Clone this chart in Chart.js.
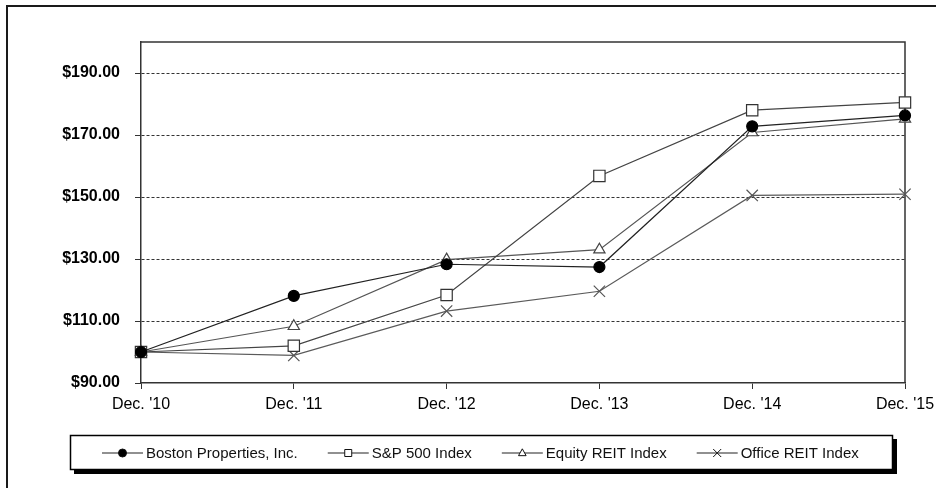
<!DOCTYPE html>
<html lang="en">
<head>
<meta charset="UTF-8">
<title>Cumulative Total Return</title>
<style>
  html, body { margin: 0; padding: 0; background: #fff; overflow: hidden; }
  .frame {
    position: absolute; left: 6px; top: 5px;
    width: 1000px; height: 1000px;
    border: 2px solid #1a1a1a;
  }
  #chart { position: absolute; left: 0; top: 0; }
</style>
<script src="https://cdn.jsdelivr.net/npm/chart.js"></script>
</head>
<body>
<div class="frame"></div>
<canvas id="chart" width="936" height="488"></canvas>
<script>
// values
const years = ["Dec. '10", "Dec. '11", "Dec. '12", "Dec. '13", "Dec. '14", "Dec. '15"];
const bostonProperties = [100, 118.1, 128.3, 127.4, 172.8, 176.3];
const sp500 = [100, 102.0, 118.4, 156.8, 178.0, 180.5];
const equityReit = [100, 108.3, 129.8, 133.0, 170.8, 175.2];
const officeReit = [100, 98.9, 113.2, 119.6, 150.5, 150.9];
const yTicks = [90, 110, 130, 150, 170, 190];

const FONT = '"Liberation Sans", Arial, sans-serif';

function drawMarker(ctx, style, x, y, r, fill, stroke) {
    ctx.save();
    ctx.fillStyle = fill;
    ctx.strokeStyle = stroke;
    ctx.lineWidth = 1;
    ctx.beginPath();
    if (style === 'circle') {
        ctx.arc(x, y, r, 0, Math.PI * 2);
        ctx.fill(); ctx.stroke();
    } else if (style === 'rect') {
        ctx.rect(x - r, y - r, r * 2, r * 2);
        ctx.fill(); ctx.stroke();
    } else if (style === 'triangle') {
        ctx.moveTo(x, y - r * 1.1);
        ctx.lineTo(x + r, y + r * 0.7);
        ctx.lineTo(x - r, y + r * 0.7);
        ctx.closePath();
        ctx.fill(); ctx.stroke();
    } else {
        ctx.moveTo(x - r, y - r); ctx.lineTo(x + r, y + r);
        ctx.moveTo(x + r, y - r); ctx.lineTo(x - r, y + r);
        ctx.stroke();
    }
    ctx.restore();
}

// top and right edges of the plot box
const plotFrame = {
    id: 'plotFrame',
    beforeDatasetsDraw(chart) {
        const {ctx, chartArea: a} = chart;
        ctx.save();
        ctx.strokeStyle = '#333';
        ctx.lineWidth = 1.5;
        ctx.beginPath();
        ctx.moveTo(a.left, a.top);
        ctx.lineTo(a.right, a.top);
        ctx.lineTo(a.right, a.bottom);
        ctx.stroke();
        ctx.restore();
    }
};

// boxed legend with drop shadow
const legendBox = {
    id: 'legendBox',
    afterDraw(chart) {
        const ctx = chart.ctx;
        ctx.save();
        ctx.fillStyle = '#000';
        ctx.fillRect(74, 439, 823, 35);
        ctx.fillStyle = '#fff';
        ctx.fillRect(70, 435, 823, 35);
        ctx.strokeStyle = '#000';
        ctx.lineWidth = 1.5;
        ctx.strokeRect(70.5, 435.5, 822, 34);

        ctx.font = '15px ' + FONT;
        ctx.textBaseline = 'middle';
        const y = 453;
        let x = 102;
        const small = {circle: 4, rect: 3.5, triangle: 3.8, crossRot: 4};
        chart.data.datasets.forEach(ds => {
            ctx.strokeStyle = '#222';
            ctx.lineWidth = 1.2;
            ctx.beginPath();
            ctx.moveTo(x, y);
            ctx.lineTo(x + 41, y);
            ctx.stroke();
            drawMarker(ctx, ds.pointStyle, x + 20.5, y, small[ds.pointStyle],
                ds.pointBackgroundColor, '#111');
            ctx.fillStyle = '#111';
            ctx.fillText(ds.label, x + 44, y + 1);
            x += 44 + ctx.measureText(ds.label).width + 30;
        });
        ctx.restore();
    }
};

new Chart(document.getElementById('chart'), {
    type: 'line',
    data: {
        labels: years,
        datasets: [
            {
                label: 'Boston Properties, Inc.',
                data: bostonProperties,
                borderColor: '#222',
                pointStyle: 'circle',
                pointRadius: 5.5,
                pointBackgroundColor: '#000',
                pointBorderColor: '#000'
            },
            {
                label: 'S&P 500 Index',
                data: sp500,
                borderColor: '#444',
                pointStyle: 'rect',
                pointRadius: 8,
                pointBackgroundColor: '#fff',
                pointBorderColor: '#333'
            },
            {
                label: 'Equity REIT Index',
                data: equityReit,
                borderColor: '#555',
                pointStyle: 'triangle',
                pointRadius: 6.5,
                pointBackgroundColor: '#fff',
                pointBorderColor: '#444'
            },
            {
                label: 'Office REIT Index',
                data: officeReit,
                borderColor: '#5a5a5a',
                pointStyle: 'crossRot',
                pointRadius: 8,
                pointBackgroundColor: '#fff',
                pointBorderColor: '#555'
            }
        ]
    },
    options: {
        responsive: false,
        animation: false,
        devicePixelRatio: 1,
        layout: { padding: { top: 42, right: 31, bottom: 65, left: 0 } },
        elements: {
            line: { borderWidth: 1.2, tension: 0 },
            point: { borderWidth: 1.2, hoverRadius: 8 }
        },
        plugins: {
            legend: { display: false },
            tooltip: { enabled: true }
        },
        scales: {
            x: {
                offset: false,
                grid: { drawOnChartArea: false, drawTicks: true, tickLength: 6, color: '#333' },
                border: { display: true, color: '#333', width: 1.5 },
                ticks: { color: '#000', font: { family: FONT, size: 16 }, padding: 6, maxRotation: 0 },
                afterFit(scale) {
                    scale.height = 40;
                    scale.paddingLeft = 0;
                    scale.paddingRight = 0;
                }
            },
            y: {
                min: 90,
                max: 200,
                afterBuildTicks(scale) {
                    scale.ticks = yTicks.map(v => ({ value: v }));
                },
                grid: {
                    color: c => (c.tick && c.tick.value === 90) ? 'rgba(0,0,0,0)' : '#333',
                    tickColor: '#333',
                    tickLength: 6,
                    lineWidth: 1
                },
                border: { display: true, color: '#333', width: 1.5, dash: [3, 2] },
                ticks: {
                    color: '#000',
                    font: { family: FONT, size: 16, weight: 'bold' },
                    padding: 15,
                    callback: v => '$' + Number(v).toFixed(2)
                },
                afterFit(scale) {
                    scale.width = 141;
                    scale.paddingTop = 0;
                    scale.paddingBottom = 0;
                }
            }
        }
    },
    plugins: [plotFrame, legendBox]
});
</script>
</body>
</html>
